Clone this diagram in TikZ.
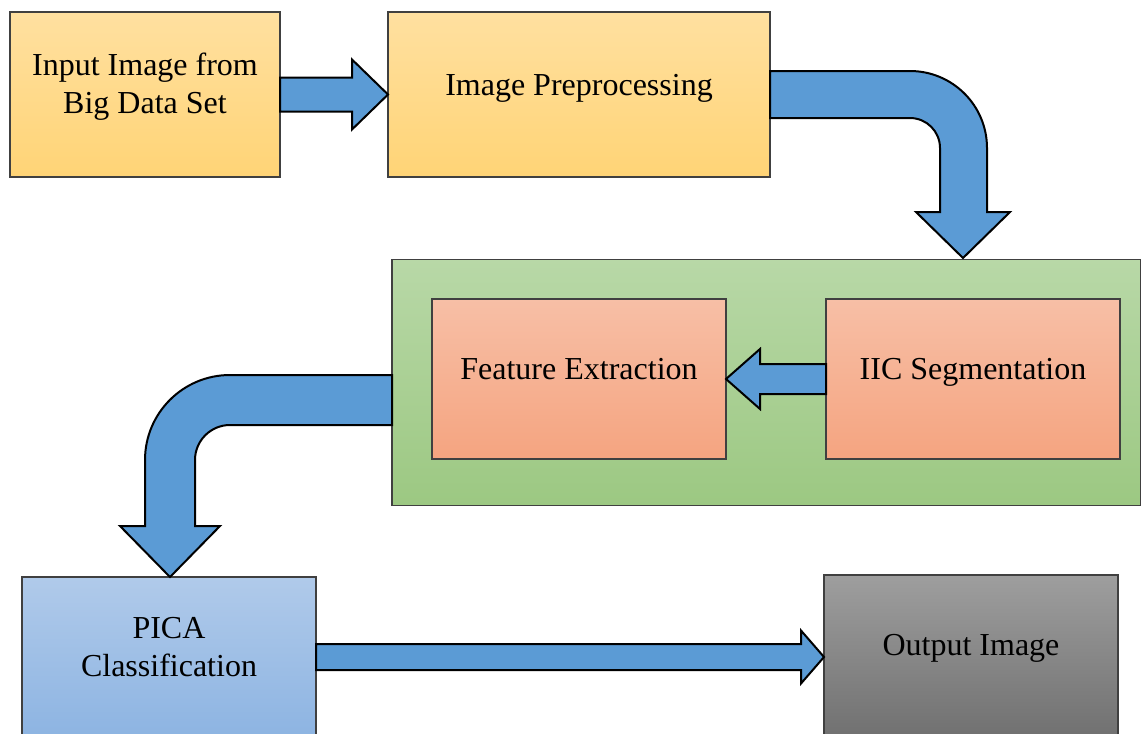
\documentclass[tikz,border=0pt]{standalone}
\usepackage{xcolor}
\usepackage{tikz}
\usepackage{fontspec}
\setmainfont{Liberation Serif}
\usetikzlibrary{calc}
\definecolor{yeltop}{RGB}{255, 224, 160}
\definecolor{yelbot}{RGB}{255, 212, 118}
\definecolor{grntop}{RGB}{184, 216, 167}
\definecolor{grnbot}{RGB}{156, 200, 130}
\definecolor{saltop}{RGB}{247, 191, 166}
\definecolor{salbot}{RGB}{245, 164, 128}
\definecolor{blutop}{RGB}{176, 202, 234}
\definecolor{blubot}{RGB}{141, 180, 226}
\definecolor{gratop}{RGB}{158, 158, 158}
\definecolor{grabot}{RGB}{112, 112, 112}
\definecolor{arrblue}{RGB}{91, 155, 213}

\begin{document}
\begin{tikzpicture}[x=0.75pt, y=-0.75pt,
    box/.style={draw=black!75, line width=0.8pt, outer sep=0pt, inner sep=0pt},
    lbl/.style={font=\fontsize{24}{28.5}\selectfont, align=center},
    blockarrow/.style={draw=black, fill=arrblue, line width=1.5pt, line join=miter}]
      \clip (0,0) rectangle (1141,733);
      \useasboundingbox (0,0) rectangle (1141,733);
      % Top row: input and preprocessing
      \node[box, top color=yeltop, bottom color=yelbot,
            minimum width=202.5pt, minimum height=123.75pt] (inp) at (145,94.5) {};
      \node[box, top color=yeltop, bottom color=yelbot,
            minimum width=286.5pt, minimum height=123.75pt] (pre) at (579,94.5) {};
      % Middle: green group with the two inner steps
      \node[box, top color=grntop, bottom color=grnbot,
            minimum width=561.75pt, minimum height=184.5pt] (grp) at (766.5,382.5) {};
      \node[box, top color=saltop, bottom color=salbot,
            minimum width=220.5pt, minimum height=120pt] (fea) at (579,379) {};
      \node[box, top color=saltop, bottom color=salbot,
            minimum width=220.5pt, minimum height=120pt] (seg) at (973,379) {};
      % Bottom row: classification and output
      \node[box, top color=blutop, bottom color=blubot,
            minimum width=220.5pt, minimum height=120pt] (pica) at (169,657) {};
      \node[box, top color=gratop, bottom color=grabot,
            minimum width=220.5pt, minimum height=123pt] (out) at (971,657) {};
      % Labels
      \node[lbl] (inptxt) at ($(inp.center)+(0,-7.5)$) {Input Image from\\Big Data Set};
      \node[lbl] (pretxt) at ($(pre.center)+(0,-6.5)$) {Image Preprocessing};
      \node[lbl] (featxt) at ($(fea.center)+(0,-10)$) {Feature Extraction};
      \node[lbl] (segtxt) at ($(seg.center)+(0,-7)$) {IIC Segmentation};
      \node[lbl] (picatxt) at ($(pica.center)+(0,-9.5)$) {PICA\\Classification};
      \node[lbl] (outtxt) at ($(out.center)+(0,-9)$) {Output Image};
      % Arrow: input -> preprocessing
      \draw[blockarrow] ($(inp.east)+(0,-17)$) -- ++(72,0) -- ++(0,-18) -- (pre.west)
        -- ++(-36,35) -- ++(0,-18) -- ($(inp.east)+(0,17)$) -- cycle;
      % Arrow: preprocessing -> group (bent down)
      \draw[blockarrow] ($(pre.east)+(0,-23.5)$) -- ++(140,0)
        arc[start angle=-90, end angle=0, radius=77] -- ++(0,64) -- ++(23,0)
        -- ++(-47,46) -- ++(-47,-46) -- ++(24,0) -- ++(0,-64)
        arc[start angle=0, end angle=-90, radius=30] -- ($(pre.east)+(0,23.5)$) -- cycle;
      % Arrow: segmentation -> feature extraction
      \draw[blockarrow] ($(seg.west)+(0,-15)$) -- ++(-66,0) -- ++(0,-15) -- (fea.east)
        -- ++(34,30) -- ++(0,-15) -- ($(seg.west)+(0,15)$) -- cycle;
      % Arrow: group -> classification (bent down)
      \draw[blockarrow] ($(grp.west)+(0,-7.5)$) -- ++(-162,0)
        arc[start angle=270, end angle=180, radius=85] -- ++(0,66) -- ++(-25,0)
        -- ++(50,51) -- ++(50,-51) -- ++(-25,0) -- ++(0,-66)
        arc[start angle=180, end angle=270, radius=35] -- ($(grp.west)+(0,42.5)$) -- cycle;
      % Arrow: classification -> output
      \draw[blockarrow] ($(pica.east)+(0,-13)$) -- ++(485,0) -- ++(0,-13.5) -- (out.west)
        -- ++(-23,26.5) -- ++(0,-13.5) -- ($(pica.east)+(0,13)$) -- cycle;
\end{tikzpicture}
\end{document}
